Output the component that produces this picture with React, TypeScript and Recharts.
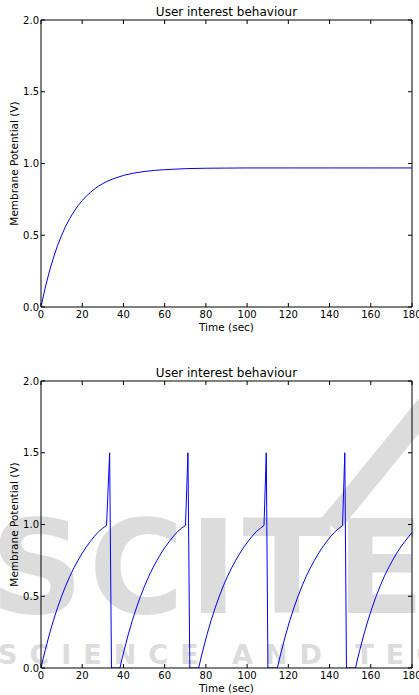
import React from 'react';
import { LineChart, Line, XAxis, YAxis, Label } from 'recharts';

const chartTitle = 'User interest behaviour';
const xLabel = 'Time (sec)';
const yLabel = 'Membrane Potential (V)';
const xTicks = [0, 20, 40, 60, 80, 100, 120, 140, 160, 180];
const yTicks = [0, 0.5, 1.0, 1.5, 2.0];

// Top panel: smooth charging curve
const topTime = [0, 2, 4, 6, 8, 10, 12, 14, 16, 18, 20, 22, 24, 26, 28, 30, 32, 35, 40, 45, 50, 55, 60, 70, 80, 90, 100, 120, 140, 160, 180];
const topValue = [0, 0.131, 0.244, 0.342, 0.427, 0.5, 0.564, 0.618, 0.665, 0.707, 0.742, 0.773, 0.799, 0.823, 0.843, 0.86, 0.875, 0.893, 0.917, 0.933, 0.944, 0.952, 0.957, 0.964, 0.967, 0.968, 0.969, 0.969, 0.969, 0.969, 0.969];

// Bottom panel: charge, spike, reset, refractory
const bottomTime = [
  0, 1, 2, 4, 6, 8, 10, 12, 14, 16, 18, 20, 22, 24, 26, 28, 30, 31.8, 33.3, 34.2,
  38.3, 39.3, 40.3, 42.3, 44.3, 46.3, 48.3, 50.3, 52.3, 54.3, 56.3, 58.3, 60.3, 62.3, 64.3, 66.3, 68.3, 70.1, 71.3, 72.2,
  76.5, 77.5, 78.5, 80.5, 82.5, 84.5, 86.5, 88.5, 90.5, 92.5, 94.5, 96.5, 98.5, 100.5, 102.5, 104.5, 106.5, 108.2, 109.3, 110.1,
  114.7, 115.7, 116.7, 118.7, 120.7, 122.7, 124.7, 126.7, 128.7, 130.7, 132.7, 134.7, 136.7, 138.7, 140.7, 142.7, 144.7, 146.3, 147.4, 148.2,
  152.6, 153.6, 154.6, 156.6, 158.6, 160.6, 162.6, 164.6, 166.6, 168.6, 170.6, 172.6, 174.6, 176.6, 178.6, 180,
];
const bottomValue = [
  0, 0.063, 0.121, 0.231, 0.33, 0.419, 0.5, 0.573, 0.639, 0.698, 0.751, 0.8, 0.844, 0.883, 0.919, 0.951, 0.975, 0.993, 1.5, 0,
  0, 0.063, 0.121, 0.231, 0.33, 0.419, 0.5, 0.573, 0.639, 0.698, 0.751, 0.8, 0.844, 0.883, 0.919, 0.951, 0.975, 0.993, 1.5, 0,
  0, 0.063, 0.121, 0.231, 0.33, 0.419, 0.5, 0.573, 0.639, 0.698, 0.751, 0.8, 0.844, 0.883, 0.919, 0.951, 0.975, 0.993, 1.5, 0,
  0, 0.063, 0.121, 0.231, 0.33, 0.419, 0.5, 0.573, 0.639, 0.698, 0.751, 0.8, 0.844, 0.883, 0.919, 0.951, 0.975, 0.993, 1.5, 0,
  0, 0.063, 0.121, 0.231, 0.33, 0.419, 0.5, 0.573, 0.639, 0.698, 0.751, 0.8, 0.844, 0.883, 0.919, 0.945,
];

const watermarkBig = 'SCITE';
const watermarkSmall = 'SCIENCE AND TECHNOLOGY';

const topData = topTime.map((t, i) => ({ t, v: topValue[i] }));
const bottomData = bottomTime.map((t, i) => ({ t, v: bottomValue[i] }));

const font = 'DejaVu Sans, sans-serif';
const tickStyle = { fill: '#000', fontSize: 10, fontFamily: font };

function Panel({ data, height, xAxisHeight, labelOffset }: { data: { t: number; v: number }[]; height: number; xAxisHeight: number; labelOffset: number }) {
  return (
    <LineChart width={419} height={height} data={data} margin={{ top: 19, right: 6, bottom: 0, left: 0 }}>
      <XAxis
        xAxisId="main"
        dataKey="t"
        type="number"
        domain={[0, 180]}
        ticks={xTicks}
        interval={0}
        allowDataOverflow
        height={xAxisHeight}
        tickSize={-4}
        tickMargin={8}
        axisLine={{ stroke: '#000' }}
        tickLine={{ stroke: '#000' }}
        tick={tickStyle}
      >
        <Label value={xLabel} position="insideBottom" offset={labelOffset} fill="#000" fontSize={10.5} fontFamily={font} />
      </XAxis>
      <XAxis
        xAxisId="top"
        orientation="top"
        dataKey="t"
        type="number"
        domain={[0, 180]}
        ticks={xTicks}
        interval={0}
        allowDataOverflow
        height={1}
        tickSize={-4}
        tickFormatter={() => ''}
        axisLine={{ stroke: '#000' }}
        tickLine={{ stroke: '#000' }}
        tick={tickStyle}
      />
      <YAxis
        yAxisId="main"
        type="number"
        domain={[0, 2]}
        ticks={yTicks}
        interval={0}
        allowDataOverflow
        width={41}
        tickSize={-4}
        tickMargin={6}
        tickFormatter={(v: number) => v.toFixed(1)}
        axisLine={{ stroke: '#000' }}
        tickLine={{ stroke: '#000' }}
        tick={tickStyle}
      >
        <Label value={yLabel} angle={-90} position="insideLeft" offset={14} fill="#000" fontSize={10.5} fontFamily={font} style={{ textAnchor: 'middle' }} />
      </YAxis>
      <YAxis
        yAxisId="right"
        orientation="right"
        type="number"
        domain={[0, 2]}
        ticks={yTicks}
        interval={0}
        allowDataOverflow
        width={1}
        tickSize={-4}
        tickFormatter={() => ''}
        axisLine={{ stroke: '#000' }}
        tickLine={{ stroke: '#000' }}
        tick={tickStyle}
      />
      <Line xAxisId="top" yAxisId="right" dataKey="v" type="linear" stroke="none" dot={false} activeDot={false} isAnimationActive={false} />
      <Line xAxisId="main" yAxisId="main" dataKey="v" type="linear" stroke="#0000ff" strokeWidth={1} dot={false} activeDot={false} isAnimationActive={false} />
    </LineChart>
  );
}

const titleStyle: React.CSSProperties = {
  position: 'absolute',
  left: 41,
  width: 371,
  textAlign: 'center',
  fontFamily: font,
  fontSize: 12,
  lineHeight: '12px',
  color: '#000',
  whiteSpace: 'nowrap',
};

export default function App() {
  return (
    <div style={{ position: 'absolute', left: 0, top: 0, width: 419, height: 695, background: '#fff', overflow: 'hidden' }}>
      <svg width={419} height={695} style={{ position: 'absolute', left: 0, top: 0 }}>
        <line x1={440} y1={390} x2={330} y2={525} stroke="#dcdcdc" strokeWidth={22} />
        <text x={-10} y={613} fill="#dcdcdc" fontFamily="DejaVu Sans, sans-serif" fontWeight="bold" fontSize={130} letterSpacing={5}>
          {watermarkBig}
        </text>
        <text x={-2} y={664} fill="#dcdcdc" fontFamily="DejaVu Sans, sans-serif" fontWeight="bold" fontSize={27} letterSpacing={12}>
          {watermarkSmall}
        </text>
      </svg>
      <div style={{ position: 'absolute', left: 0, top: 0 }}>
        <Panel data={topData} height={347} xAxisHeight={40} labelOffset={16} />
      </div>
      <div style={{ position: 'absolute', left: 0, top: 361 }}>
        <Panel data={bottomData} height={334} xAxisHeight={27} labelOffset={3} />
      </div>
      <div style={{ ...titleStyle, top: 6 }}>{chartTitle}</div>
      <div style={{ ...titleStyle, top: 367 }}>{chartTitle}</div>
    </div>
  );
}
